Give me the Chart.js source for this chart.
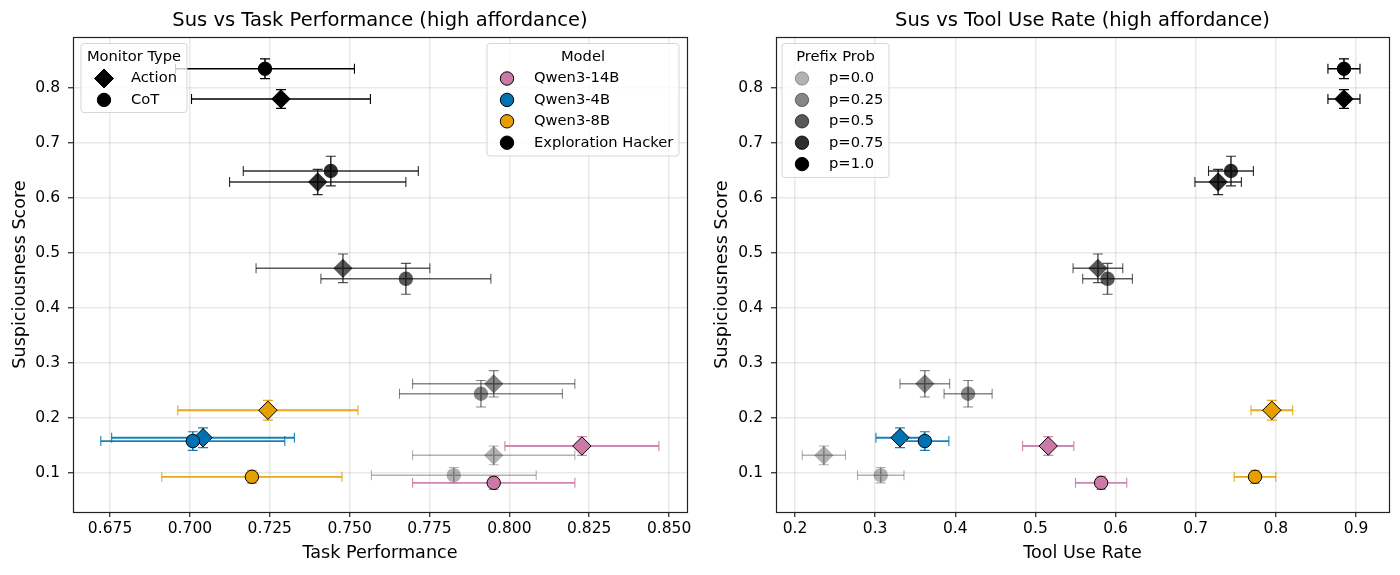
<!DOCTYPE html>
<html>
<head>
<meta charset="utf-8">
<title>Sus vs Task Performance and Tool Use Rate</title>
<script src="https://cdn.jsdelivr.net/npm/chart.js@4/dist/chart.umd.min.js"></script>
<style>
  html, body { margin: 0; background: #fff; }
  #wrap { position: relative; width: 1400px; height: 575px; overflow: hidden; }
  canvas { position: absolute; top: 0; }
  #left { left: 0; }
  #right { left: 700px; }
</style>
</head>
<body>
<div id="wrap">
  <canvas id="left" width="700" height="575"></canvas>
  <canvas id="right" width="700" height="575"></canvas>
</div>
<script>
const models = ['Qwen3-14B', 'Qwen3-4B', 'Qwen3-8B', 'Exploration Hacker'];
const monitors = ['Action', 'CoT'];
const prefixProbs = ['p=0.0', 'p=0.25', 'p=0.5', 'p=0.75', 'p=1.0'];

// one entry per plotted point
const pointModel = [3, 3, 3, 3, 3, 3, 3, 3, 3, 3, 0, 0, 1, 1, 2, 2];
const pointMonitor = [0, 1, 0, 1, 0, 1, 0, 1, 0, 1, 0, 1, 0, 1, 0, 1];
const pointPrefix = [0, 0, 1, 1, 2, 2, 3, 3, 4, 4, 4, 4, 4, 4, 4, 4];
const susScore = [0.132, 0.096, 0.262, 0.244, 0.472, 0.453, 0.629, 0.649, 0.780, 0.835, 0.149, 0.082, 0.164, 0.158, 0.214, 0.093];
const susErr = [0.017, 0.014, 0.024, 0.024, 0.026, 0.028, 0.023, 0.027, 0.017, 0.018, 0.017, 0.012, 0.018, 0.017, 0.018, 0.012];
const taskPerf = [0.7951, 0.7826, 0.7951, 0.7911, 0.7479, 0.7676, 0.7400, 0.7441, 0.7285, 0.7235, 0.8227, 0.7951, 0.7041, 0.7009, 0.7244, 0.7194];
const taskErr = [0.0254, 0.0258, 0.0254, 0.0255, 0.0272, 0.0266, 0.0276, 0.0274, 0.0280, 0.0280, 0.0241, 0.0254, 0.0286, 0.0288, 0.0282, 0.0282];
const toolRate = [0.236, 0.307, 0.362, 0.416, 0.578, 0.590, 0.728, 0.744, 0.885, 0.885, 0.516, 0.582, 0.331, 0.362, 0.795, 0.774];
const toolErr = [0.027, 0.029, 0.031, 0.030, 0.031, 0.031, 0.029, 0.028, 0.020, 0.020, 0.032, 0.032, 0.030, 0.030, 0.026, 0.026];

const taskTicks = [0.675, 0.7, 0.725, 0.75, 0.775, 0.8, 0.825, 0.85];
const toolTicks = [0.2, 0.3, 0.4, 0.5, 0.6, 0.7, 0.8, 0.9];
const susTicks = [0.1, 0.2, 0.3, 0.4, 0.5, 0.6, 0.7, 0.8];

const modelColors = ['#CC79A7', '#0072B2', '#E69F00', '#000000'];
const prefixAlpha = [0.3, 0.475, 0.65, 0.825, 1];

const FONT = '"DejaVu Sans", sans-serif';
Chart.defaults.font.family = FONT;
Chart.defaults.color = '#000';

function pointColor(i, alpha) {
  if (pointModel[i] !== 3) return withAlpha(modelColors[pointModel[i]], alpha);
  return 'rgba(0,0,0,' + prefixAlpha[pointPrefix[i]] * alpha + ')';
}

function withAlpha(hex, alpha) {
  const n = parseInt(hex.slice(1), 16);
  return `rgba(${n >> 16},${(n >> 8) & 255},${n & 255},${alpha})`;
}

// error bars go under their own marker, dataset by dataset
const errorBars = {
  id: 'errorBars',
  beforeDatasetDraw(chart, args, opts) {
    const i = args.index;
    const { x: xs, y: ys } = chart.scales;
    const px = xs.getPixelForValue(opts.xVals[i]);
    const py = ys.getPixelForValue(susScore[i]);
    const x0 = xs.getPixelForValue(opts.xVals[i] - opts.xErrs[i]);
    const x1 = xs.getPixelForValue(opts.xVals[i] + opts.xErrs[i]);
    const y0 = ys.getPixelForValue(susScore[i] - susErr[i]);
    const y1 = ys.getPixelForValue(susScore[i] + susErr[i]);
    const ctx = chart.ctx;
    const colored = pointModel[i] !== 3;
    ctx.save();
    ctx.strokeStyle = pointColor(i, colored ? 0.9 : 1);
    ctx.lineWidth = colored ? 1.8 : 1.5;
    ctx.beginPath();
    ctx.moveTo(x0, py); ctx.lineTo(x1, py);
    ctx.moveTo(px, y0); ctx.lineTo(px, y1);
    ctx.stroke();
    ctx.lineWidth = 1.1;
    ctx.beginPath();
    ctx.moveTo(x0, py - 5); ctx.lineTo(x0, py + 5);
    ctx.moveTo(x1, py - 5); ctx.lineTo(x1, py + 5);
    ctx.moveTo(px - 5, y0); ctx.lineTo(px + 5, y0);
    ctx.moveTo(px - 5, y1); ctx.lineTo(px + 5, y1);
    ctx.stroke();
    ctx.restore();
  },
};

function drawMarker(ctx, shape, x, y, fill, edge) {
  ctx.fillStyle = fill;
  ctx.strokeStyle = edge;
  ctx.lineWidth = 1;
  ctx.beginPath();
  if (shape === 'diamond') {
    ctx.moveTo(x, y - 9.5); ctx.lineTo(x + 9.5, y); ctx.lineTo(x, y + 9.5); ctx.lineTo(x - 9.5, y); ctx.closePath();
  } else {
    ctx.arc(x, y, 6.7, 0, Math.PI * 2);
  }
  ctx.fill();
  ctx.stroke();
}

// spines and the boxed legends, with matplotlib's see-through frame
const frame = {
  id: 'frame',
  afterDatasetsDraw(chart, args, opts) {
    const ctx = chart.ctx;
    const a = chart.chartArea;
    ctx.save();
    ctx.strokeStyle = '#222';
    ctx.lineWidth = 1.2;
    ctx.strokeRect(Math.round(a.left) + 0.5, Math.round(a.top) + 0.5, Math.round(a.right - a.left), Math.round(a.bottom - a.top));
    opts.legends.forEach((lg) => {
      ctx.beginPath();
      ctx.roundRect(lg.x, lg.y, lg.w, lg.h, 3);
      ctx.fillStyle = 'rgba(255,255,255,0.8)';
      ctx.fill();
      ctx.strokeStyle = 'rgba(204,204,204,0.8)';
      ctx.lineWidth = 1;
      ctx.stroke();
      ctx.fillStyle = '#000';
      ctx.font = '14.7px ' + FONT;
      ctx.textBaseline = 'middle';
      ctx.textAlign = 'center';
      ctx.fillText(lg.title, lg.x + lg.w / 2, lg.y + 13.5);
      lg.items.forEach((item, k) => {
        const y = lg.y + 35 + k * 21.4;
        drawMarker(ctx, item.shape, lg.markerX, y, item.fill, item.edge);
        ctx.fillStyle = '#000';
        ctx.textAlign = 'left';
        ctx.fillText(item.label, lg.textX, y);
      });
    });
    ctx.restore();
  },
};

function makeChart(id, cfg) {
  const datasets = pointModel.map((m, i) => {
    const gray = m === 3 && pointPrefix[i] < 4;
    const radius = pointMonitor[i] === 0 ? 9.2 : 6.7;
    return {
      label: models[m] + ' ' + monitors[pointMonitor[i]] + ' ' + prefixProbs[pointPrefix[i]],
      data: [{ x: cfg.xVals[i], y: susScore[i] }],
      pointStyle: pointMonitor[i] === 0 ? 'rectRot' : 'circle',
      pointRadius: gray ? radius + 0.5 : radius,
      pointBackgroundColor: pointColor(i, 1),
      pointBorderColor: '#000',
      pointBorderWidth: gray ? 0 : 1,
      clip: false,
      order: pointModel.length - i,
    };
  });
  return new Chart(document.getElementById(id), {
    type: 'scatter',
    data: { datasets },
    plugins: [errorBars, frame],
    options: {
      responsive: false,
      animation: false,
      layout: { padding: { left: 0, right: cfg.padRight, top: 0, bottom: 0 } },
      plugins: {
        legend: { display: false },
        tooltip: { enabled: false },
        title: {
          display: true,
          fullSize: false, // centre over the plot, not the canvas
          text: cfg.title,
          color: '#000',
          font: { size: 19.5, weight: 'normal' },
          padding: { top: 9.3, bottom: 4.3 },
        },
        errorBars: { xVals: cfg.xVals, xErrs: cfg.xErrs },
        frame: { legends: cfg.legends },
      },
      scales: {
        x: {
          min: cfg.xMin,
          max: cfg.xMax,
          afterFit: (s) => { s.height = 63; },
          afterBuildTicks: (s) => { s.ticks = cfg.xTicks.map((value) => ({ value })); },
          title: { display: true, text: cfg.xLabel, color: '#000', font: { size: 17.6 }, padding: { top: 0, bottom: 11.5 } },
          grid: { color: 'rgba(0,0,0,0.085)', lineWidth: 1.5, tickColor: '#222', tickLength: 5, tickWidth: 1.2 },
          border: { display: false },
          ticks: { autoSkip: false, maxRotation: 0, padding: 3, color: '#000', font: { size: 15.5 }, callback: (v) => v.toFixed(cfg.xDigits) },
        },
        y: {
          min: 0.029,
          max: 0.8927,
          afterFit: (s) => { s.width = cfg.plotLeft; },
          afterBuildTicks: (s) => { s.ticks = susTicks.map((value) => ({ value })); },
          title: { display: true, text: 'Suspiciousness Score', color: '#000', font: { size: 17.6 }, padding: { top: cfg.yTitlePad, bottom: 0 } },
          grid: { color: 'rgba(0,0,0,0.085)', lineWidth: 1.5, tickColor: '#222', tickLength: 5, tickWidth: 1.2 },
          border: { display: false },
          ticks: { autoSkip: false, padding: 8, color: '#000', font: { size: 15.5 }, callback: (v) => v.toFixed(1) },
        },
      },
    },
  });
}

const monitorLegend = monitors.map((label, k) => ({
  label, shape: k === 0 ? 'diamond' : 'circle', fill: '#000', edge: '#000',
}));
const modelLegend = models.map((label, k) => ({
  label, shape: 'circle', fill: modelColors[k], edge: '#000',
}));
const prefixLegend = prefixProbs.map((label, k) => ({
  label, shape: 'circle', fill: `rgba(0,0,0,${prefixAlpha[k]})`, edge: `rgba(0,0,0,${prefixAlpha[k]})`,
}));

makeChart('left', {
  title: 'Sus vs Task Performance (high affordance)',
  xLabel: 'Task Performance',
  xVals: taskPerf,
  xErrs: taskErr,
  xTicks: taskTicks,
  xDigits: 3,
  xMin: 0.6634,
  xMax: 0.8556,
  plotLeft: 73,
  padRight: 13,
  yTitlePad: 10,
  legends: [
    { title: 'Monitor Type', x: 81, y: 43.5, w: 106, h: 69, markerX: 104, textX: 131, items: monitorLegend },
    { title: 'Model', x: 487, y: 43.5, w: 192, h: 112.5, markerX: 507, textX: 534, items: modelLegend },
  ],
});

makeChart('right', {
  title: 'Sus vs Tool Use Rate (high affordance)',
  xLabel: 'Tool Use Rate',
  xVals: toolRate,
  xErrs: toolErr,
  xTicks: toolTicks,
  xDigits: 1,
  xMin: 0.1763,
  xMax: 0.9412,
  plotLeft: 76,
  padRight: 11,
  yTitlePad: 12,
  legends: [
    { title: 'Prefix Prob', x: 82, y: 43.5, w: 107, h: 134, markerX: 102, textX: 129, items: prefixLegend },
  ],
});
</script>
</body>
</html>
